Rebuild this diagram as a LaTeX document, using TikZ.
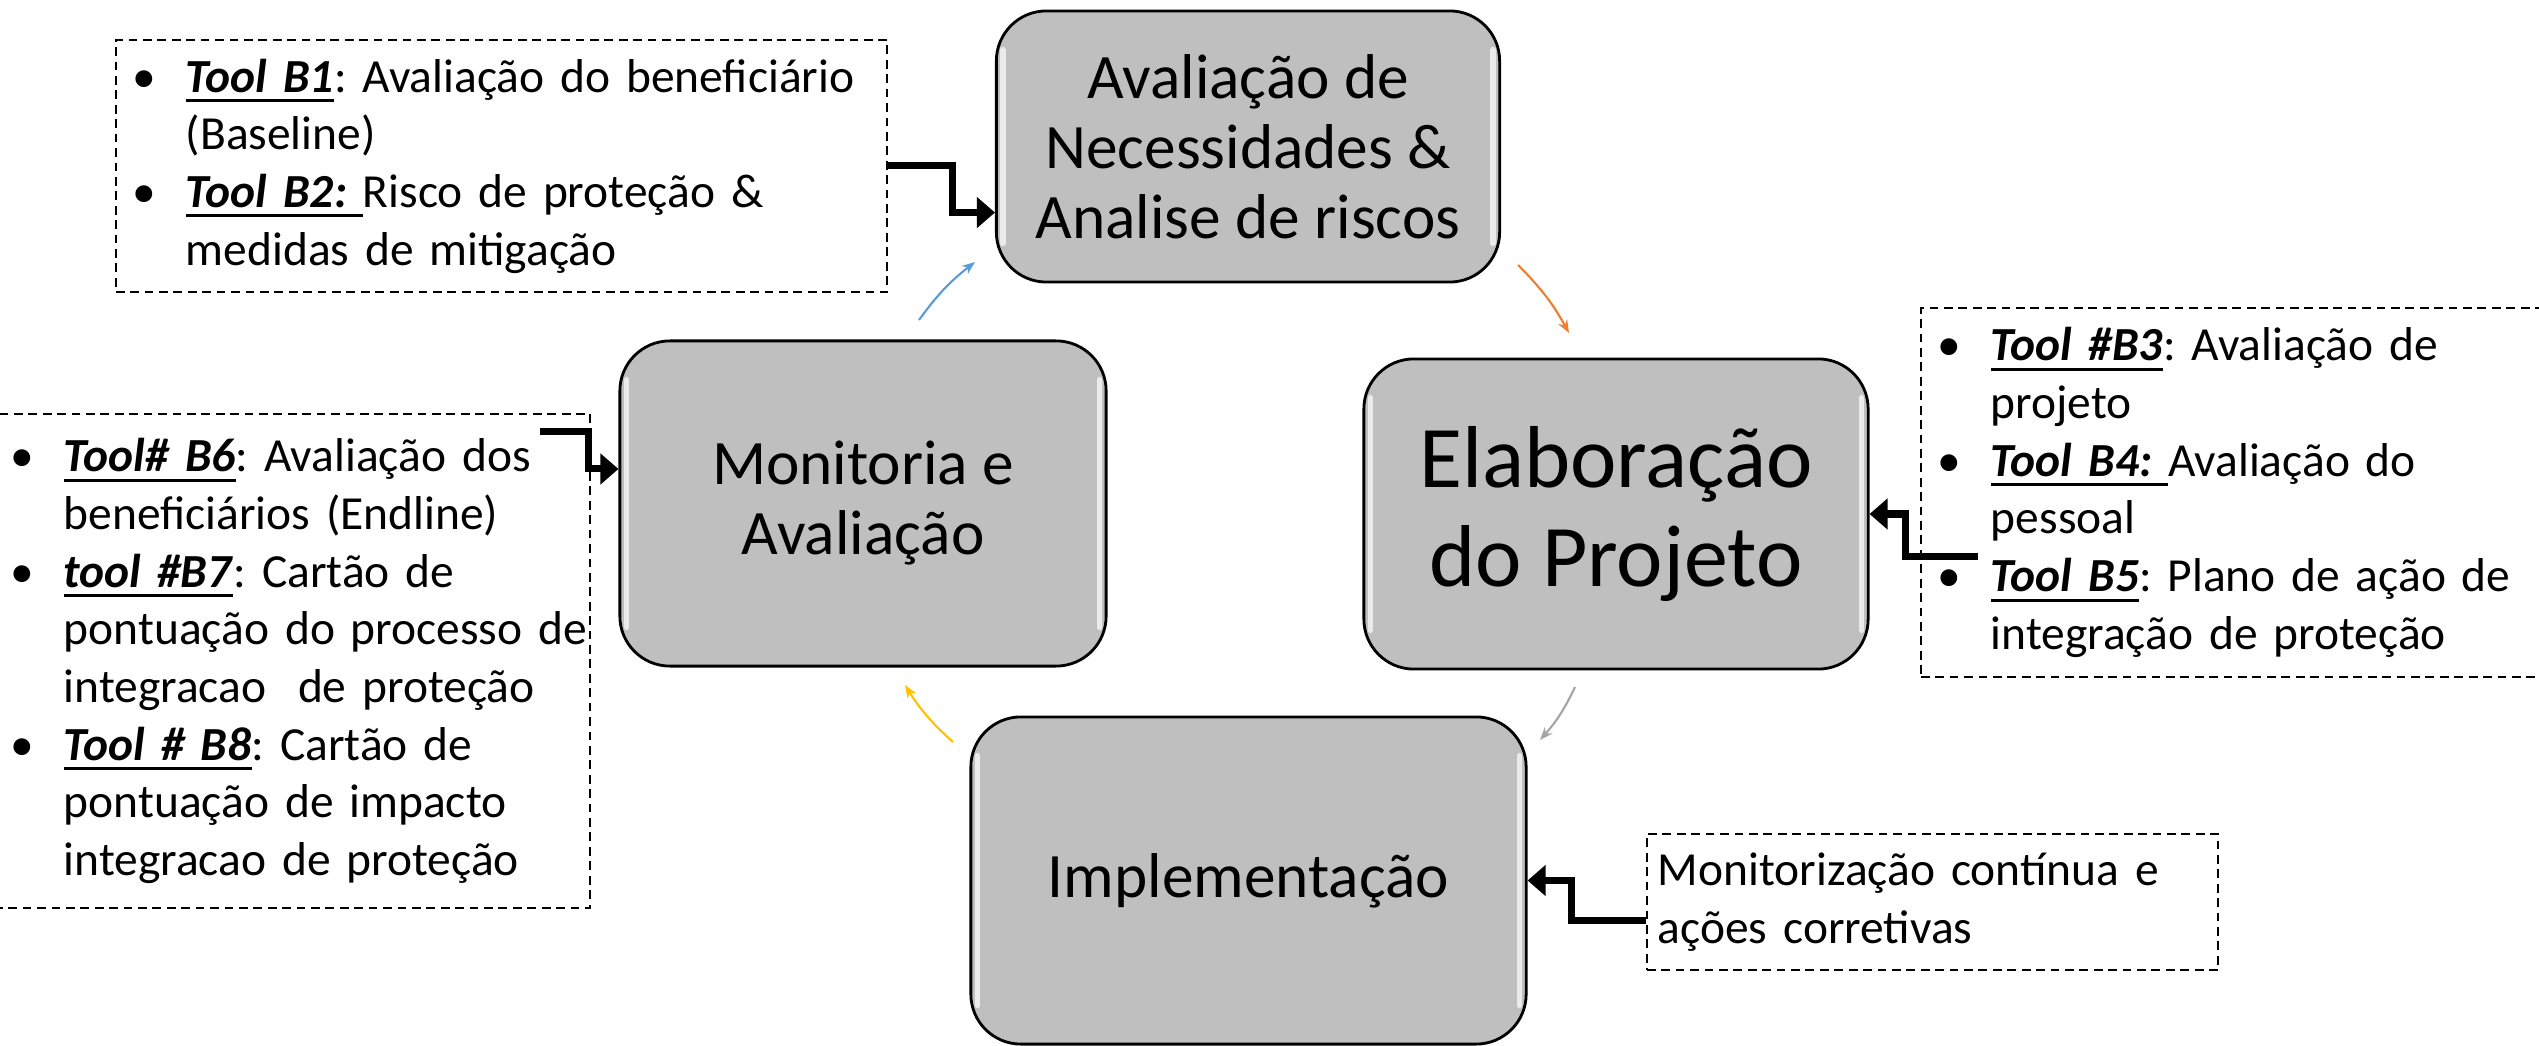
\documentclass[tikz,border=0pt]{standalone}
\usepackage{fontspec}
\setmainfont{Carlito}
\frenchspacing
\usetikzlibrary{arrows.meta,positioning,calc}

\definecolor{stagegray}{HTML}{BFBFBF}
\definecolor{arcblue}{HTML}{5B9BD5}
\definecolor{arcorange}{HTML}{ED7D31}
\definecolor{arcgray}{HTML}{A5A5A5}
\definecolor{arcyellow}{HTML}{FFC000}

\newsavebox{\toolsav}
\newcommand{\toolname}[1]{\sbox{\toolsav}{\textbf{\textit{#1}}}\rlap{\rule[-0.1cm]{\wd\toolsav}{0.03cm}}\usebox{\toolsav}}
\newcommand{\firstln}[1]{\mbox{\makebox[0.53cm][l]{\textbullet}#1}}
\newcommand{\nextln}[1]{\mbox{\hspace*{0.53cm}#1}}

\tikzset{
  stage/.style={draw=black, line width=0.8pt, fill=stagegray, rounded corners=0.5cm,
    align=center, inner sep=0pt, font=\fontsize{18}{19.9}\selectfont},
  tools/.style={draw=black, line width=0.6pt, dash pattern=on 2.5pt off 1.6pt,
    align=left, inner xsep=0.17cm, inner ysep=0pt, font=\fontsize{13.5}{16.4}\selectfont},
  feed/.style={line width=0.07cm, -{Triangle[length=0.18cm,width=0.30cm]}},
  loopline/.style={line width=0.6pt, -{Stealth[length=0.13cm,width=0.1cm]}},
  shine/.style={white, line width=1.5pt, opacity=0.7, line cap=round},
}

\begin{document}
\begin{tikzpicture}[x=0.01cm, y=-0.01cm]
\useasboundingbox (0,0) rectangle (2539,1046);

% the four stages
\node[stage, minimum width=5.03cm, minimum height=2.71cm] (needs) at (1248,146.5)
  {Avaliação de\\Necessidades \&\\Analise de riscos};
\node[stage, minimum width=5.04cm, minimum height=3.10cm,
  font=\fontsize{25}{27.9}\selectfont] (design) at (1616,514) {Elaboração\\do Projeto};
\node[stage, minimum width=5.55cm, minimum height=3.27cm] (impl) at (1248.5,880.5)
  {Implementação};
\node[stage, minimum width=4.86cm, minimum height=3.25cm] (monit) at (863,503.5)
  {Monitoria e\\Avaliação};

\foreach \n in {needs,design,impl,monit}{
  \draw[shine] ([shift={(0.08cm,-0.4cm)}]\n.north west) -- ([shift={(0.08cm,0.4cm)}]\n.south west);
  \draw[shine] ([shift={(-0.08cm,-0.4cm)}]\n.north east) -- ([shift={(-0.08cm,0.4cm)}]\n.south east);
}

% tool boxes
\node[tools, text width=7.37cm, minimum height=2.52cm] (b12) at (501.5,166)
  {\firstln{\toolname{Tool B1}: Avaliação do beneficiário}\\
   \nextln{(Baseline)}\\
   \firstln{\toolname{Tool B2:\ }Risco de proteção \&}\\
   \nextln{medidas de mitigação}};
\node[tools, text width=5.90cm, minimum height=3.69cm] (b35) at (2233,492.5)
  {\firstln{\toolname{Tool \#B3}: Avaliação de}\\
   \nextln{projeto}\\
   \firstln{\toolname{Tool B4:\ }Avaliação do}\\
   \nextln{pessoal}\\
   \firstln{\toolname{Tool B5}: Plano de ação de}\\
   \nextln{integração de proteção}};
\node[tools, text width=5.62cm, minimum height=4.94cm] (b68) at (292,661)
  {\firstln{\toolname{Tool\# B6}: Avaliação dos}\\
   \nextln{beneficiários (Endline)}\\
   \firstln{\toolname{tool \#B7}: Cartão de}\\
   \nextln{pontuação do processo de}\\
   \nextln{integracao\ \ de proteção}\\
   \firstln{\toolname{Tool \# B8}: Cartão de}\\
   \nextln{pontuação de impacto}\\
   \nextln{integracao de proteção}};
\node[tools, inner xsep=0.11cm, text width=5.49cm, minimum height=1.36cm] (tcont) at (1932.5,902)
  {\mbox{Monitorização contínua e}\\ \mbox{ações corretivas}};

% feeding arrows
\draw[feed] (b12.east) -- ++(64,0) |- ([yshift=-0.66cm]needs.west);
\draw[feed] ([xshift=0.58cm,yshift=-0.635cm]b35.west) -- ++(-72,0) |- (design.east);
\draw[feed] ([xshift=-0.51cm,yshift=-0.19cm]b68.north east) -- ++(48,0) |- ([yshift=0.345cm]monit.west);
\draw[feed] ([yshift=-0.18cm]tcont.west) -- ++(-74,0) |- (impl.east);

% cycle arrows
\coordinate (ma0) at (919,320);  \coordinate (ma1) at (975,262);
\coordinate (ae0) at (1518,265); \coordinate (ae1) at (1569,333);
\coordinate (ei0) at (1575,687); \coordinate (ei1) at (1540,740);
\coordinate (im0) at (953,742);  \coordinate (im1) at (905,685);
\draw[loopline, arcblue] (ma0) to[bend left=8] (ma1);
\draw[loopline, arcorange] (ae0) to[bend left=8] (ae1);
\draw[loopline, arcgray] (ei0) to[bend left=8] (ei1);
\draw[loopline, arcyellow] (im0) to[bend left=8] (im1);
\end{tikzpicture}
\end{document}
